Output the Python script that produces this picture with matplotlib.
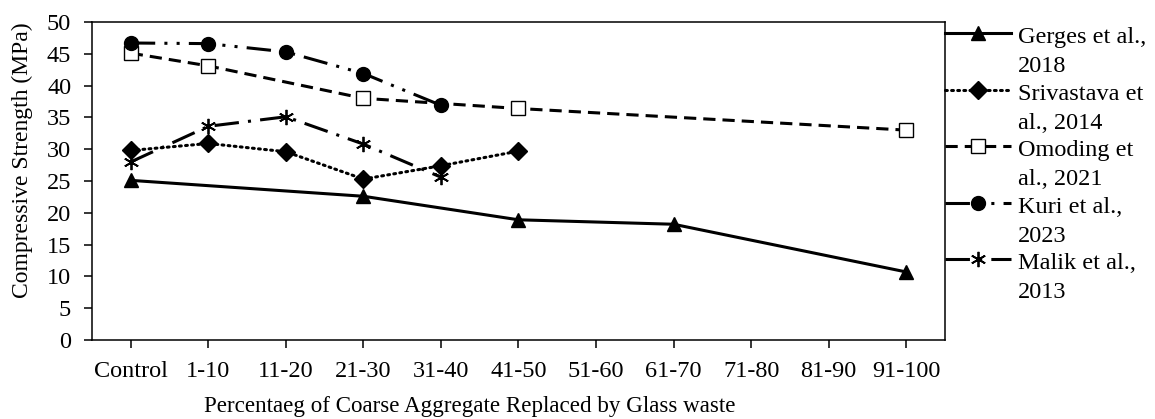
import numpy as np
import matplotlib.pyplot as plt
from matplotlib.legend_handler import HandlerLine2D

categories = ['Control', '1-10', '11-20', '21-30', '31-40', '41-50',
              '51-60', '61-70', '71-80', '81-90', '91-100']

# None = no value reported for that range
gerges = [25.1, None, None, 22.6, None, 18.9, None, 18.2, None, None, 10.7]
srivastava = [29.8, 30.9, 29.6, 25.3, 27.4, 29.7, None, None, None, None, None]
omoding = [45.1, 43.1, None, 38.0, None, 36.4, None, None, None, None, 33.0]
kuri = [46.7, 46.6, 45.3, 41.9, 36.9, None, None, None, None, None, None]
malik = [28.0, 33.6, 35.1, 30.8, 25.6, None, None, None, None, None, None]

names = ['Gerges et al.,\n2018', 'Srivastava et\nal., 2014', 'Omoding et\nal., 2021',
         'Kuri et al.,\n2023', 'Malik et al.,\n2013']

plt.rcParams['font.family'] = ['Liberation Serif', 'DejaVu Serif']
FS = 17.5


class FirstLineHandler(HandlerLine2D):
    # put the legend line next to the first text line instead of the middle
    def create_artists(self, legend, orig_handle, xdescent, ydescent, width, height, fontsize, trans):
        return super().create_artists(legend, orig_handle, xdescent, ydescent - 26.5,
                                      width, height, fontsize, trans)


fig = plt.figure(figsize=(11.55, 4.19), dpi=100)
ax = fig.add_axes([92 / 1155, 79 / 419, 853 / 1155, 318 / 419])

styles = [
    dict(linestyle='-', marker='^', markersize=10, mfc='black'),
    dict(linestyle=(0, (0.6, 1.4)), marker='D', markersize=9, mfc='black', dash_capstyle='round'),
    dict(linestyle=(0, (4, 2.3)), marker='s', markersize=9.5, mfc='white'),
    dict(linestyle=(0, (8, 3, 1, 3, 1, 3)), marker='o', markersize=10, mfc='black'),
    dict(linestyle=(0, (8, 3, 1, 3)), marker=(6, 2, 0), markersize=11, mfc='black', mew=1.3),
]

for series, name, st in zip([gerges, srivastava, omoding, kuri, malik], names, styles):
    xs = [i for i, v in enumerate(series) if v is not None]
    ys = [v for v in series if v is not None]
    ax.plot(xs, ys, color='black', linewidth=2.2, mec='black', label=name, **st)

ax.set_xlim(-0.5, len(categories) - 0.5)
ax.set_ylim(0, 50)
ax.set_yticks(np.arange(0, 51, 5))
ax.set_xticks(range(len(categories)))
ax.set_xticklabels(categories)
ax.tick_params(direction='out', length=6, width=1.1, labelsize=FS, pad=9)
for s in ax.spines.values():
    s.set_linewidth(1.1)

fig.text(470 / 1155, 7 / 419, 'Percentaeg of Coarse Aggregate Replaced by Glass waste',
         ha='center', va='baseline', fontsize=16.6)
fig.text(22 / 1155, 1 - 160 / 419, 'Compressive Strength (MPa)', rotation=90,
         ha='center', va='center', fontsize=17)

leg = ax.legend(loc='upper left', bbox_to_anchor=(1.0, 1.0 - 5 / 318), frameon=False,
                handlelength=2.7, handletextpad=0.3, borderaxespad=0, borderpad=0,
                labelspacing=0.27, fontsize=FS,
                handler_map={plt.Line2D: FirstLineHandler()})
for t in leg.get_texts():
    t.set_linespacing(1.5)

fig.savefig('out.png', dpi=100)
